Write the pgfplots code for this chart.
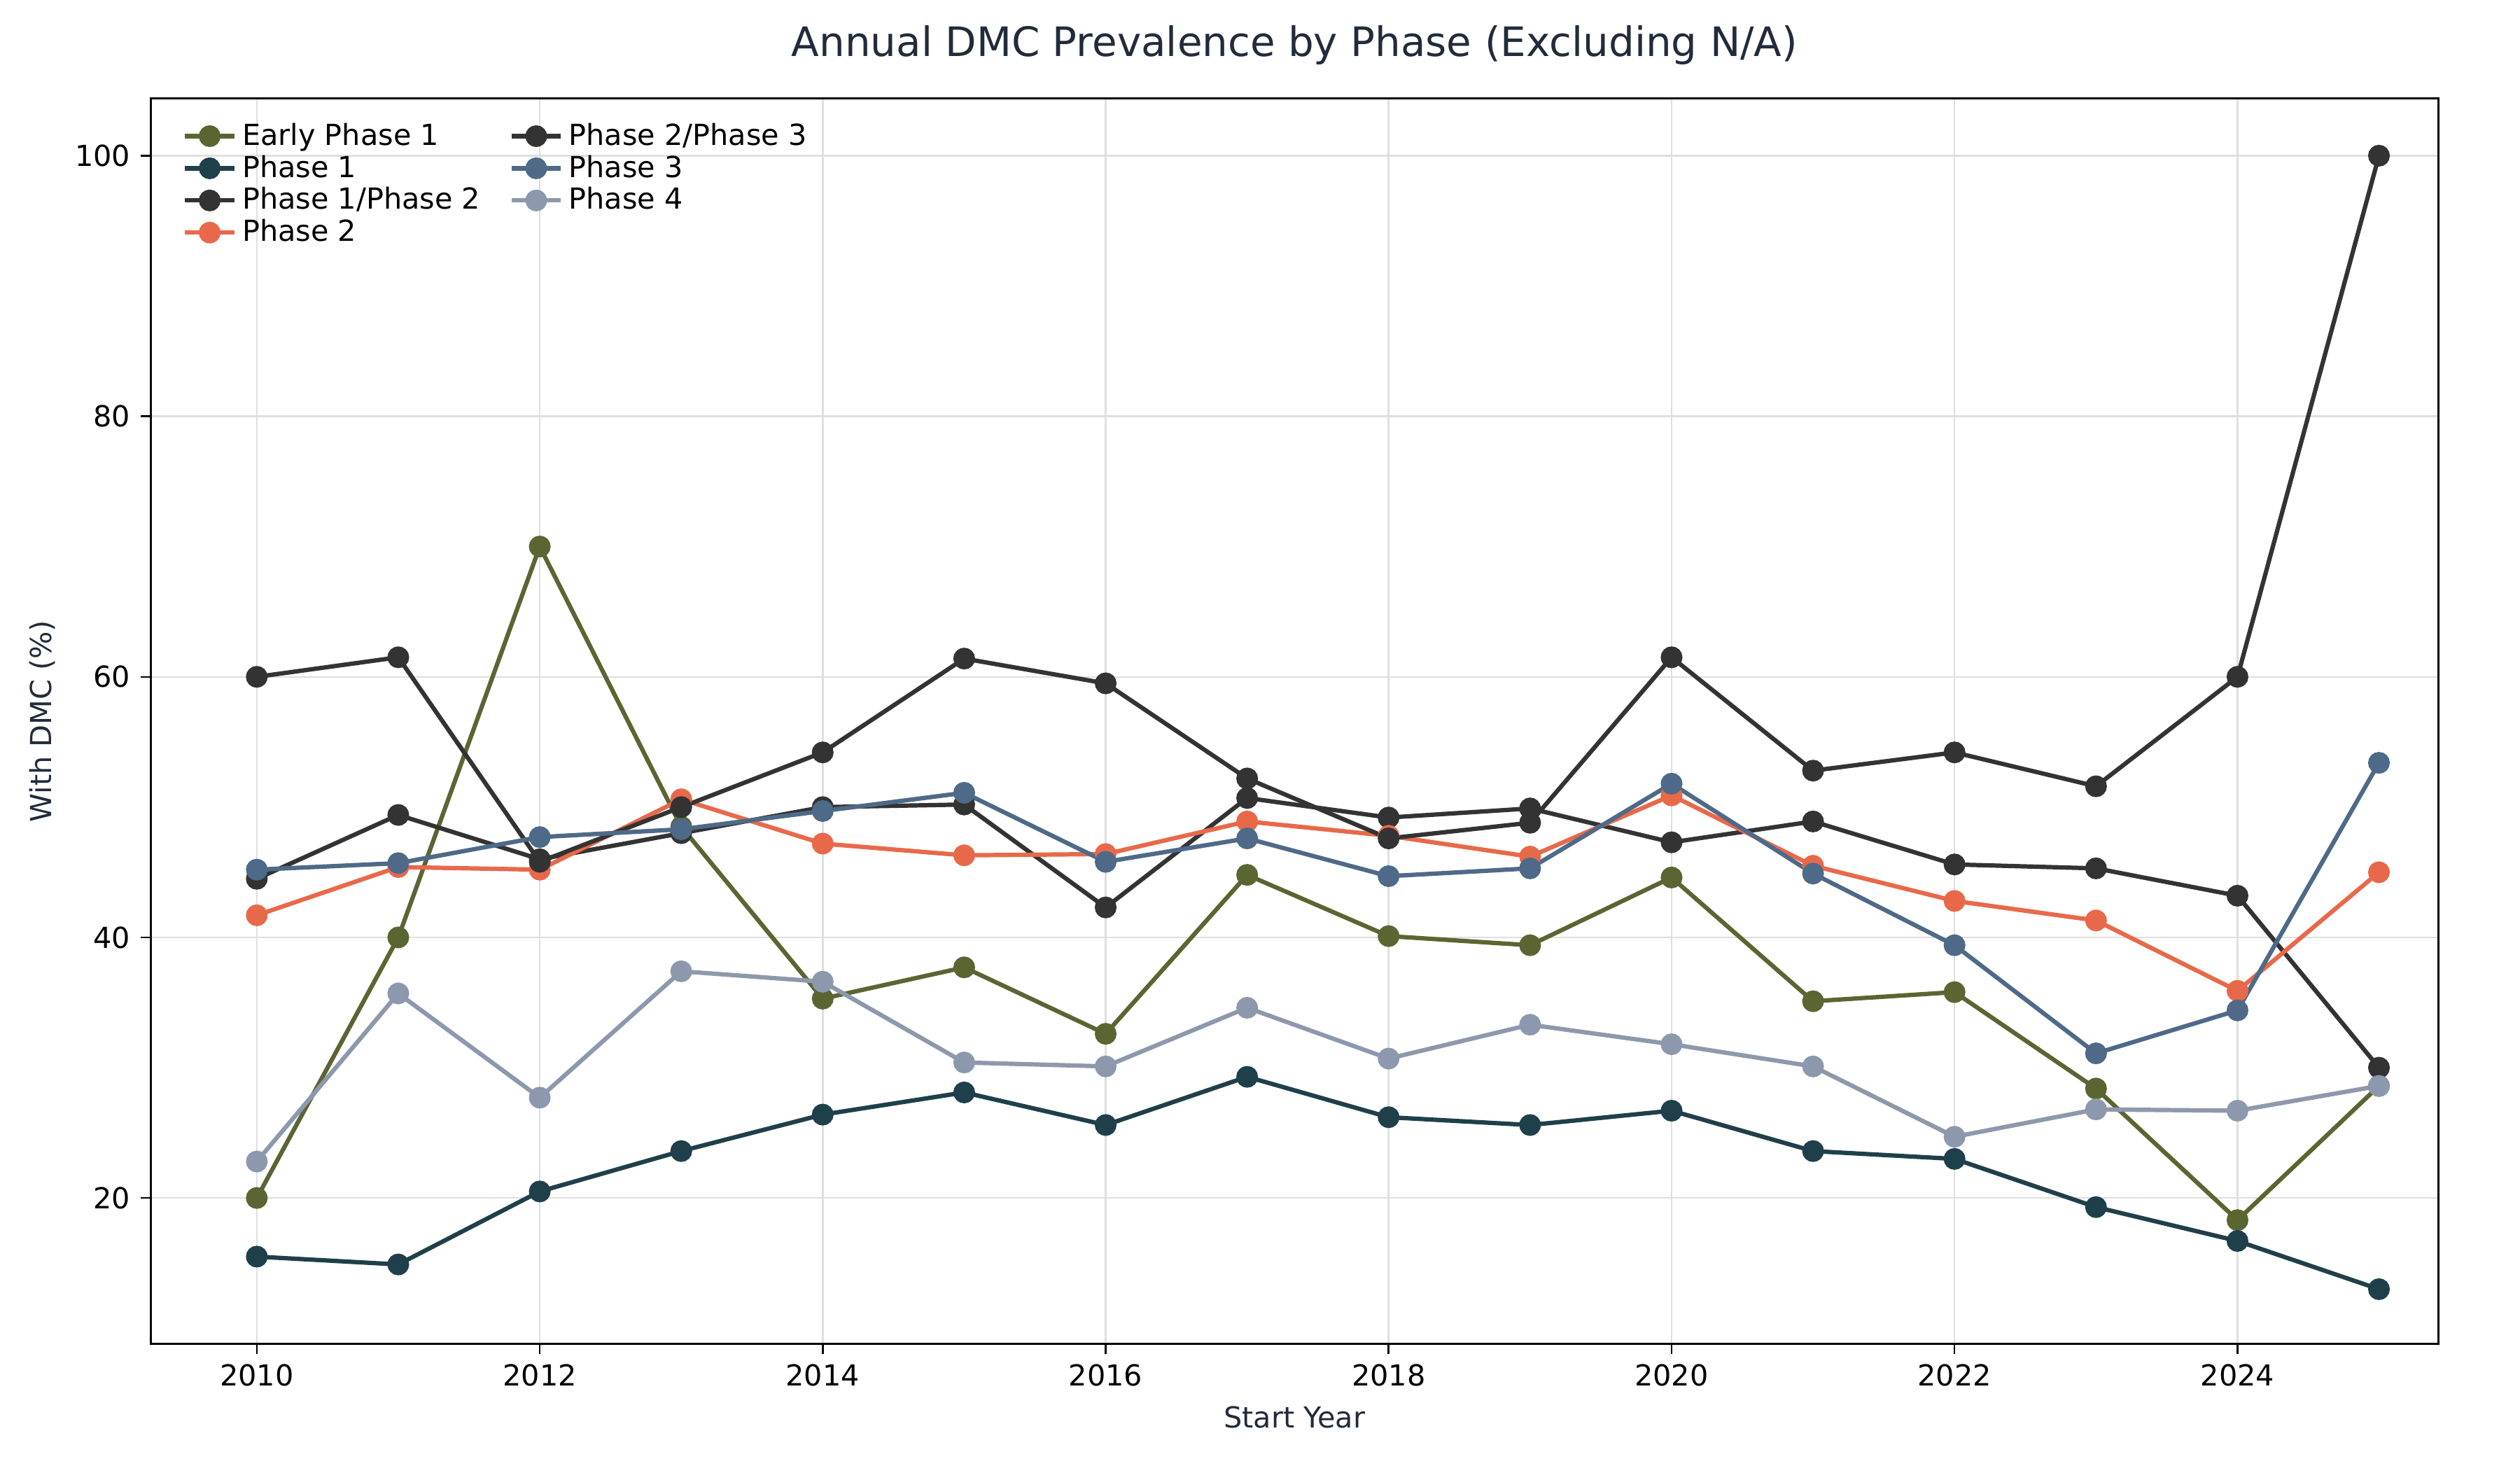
\documentclass[border=0pt]{standalone}
\usepackage{fontspec}
\setmainfont{DejaVu Sans}
\usepackage{pgfplots}
\pgfplotsset{compat=1.18}
\definecolor{cE}{HTML}{5B6532}
\definecolor{cA}{HTML}{1F3F4B}
\definecolor{cK}{HTML}{333333}
\definecolor{cB}{HTML}{E8694A}
\definecolor{cC}{HTML}{4E6A88}
\definecolor{cD}{HTML}{8E98AD}
\definecolor{cT}{HTML}{222B3A}
\begin{document}
\begin{tikzpicture}
\path (-0.72in,-0.65in) rectangle (10.9in+0.42in,5.95in+0.47in);
\begin{axis}[
  at={(0,0)}, anchor=south west,
  width=10.93in, height=5.95in, scale only axis,
  xmin=2009.25, xmax=2025.42, ymin=8.8, ymax=104.4,
  xtick={2010,2012,...,2024}, ytick={20,40,60,80,100},
  xtick pos=bottom, ytick pos=left,
  xticklabel style={/pgf/number format/1000 sep={}},
  /pgf/number format/assume math mode=true,
  tick label style={font=\fontsize{10}{12}\selectfont},
  label style={font=\fontsize{10}{12}\selectfont, text=cT},
  xlabel={Start Year}, ylabel={With DMC (\%)},
  title={Annual DMC Prevalence by Phase (Excluding N/A)},
  title style={font=\fontsize{14}{16}\selectfont, text=cT, yshift=2pt},
  grid=major, grid style={gray!25, line width=0.6pt},
  tick align=outside, tick style={black, line width=0.6pt}, major tick length=3.5pt,
  axis line style={line width=0.8pt},
  legend style={draw=none, fill=none, at={(0.01,0.99)}, anchor=north west, font=\fontsize{10}{12}\selectfont, legend cell align=left, row sep=-2pt, /tikz/every even column/.append style={column sep=8pt}},
  legend columns=4, transpose legend,
  every axis plot/.append style={line width=1.5pt, mark=*, mark size=3pt},
]
\addplot[cE, mark options={fill=cE}] coordinates {(2010,20)(2011,40)(2012,70)(2013,48.5)(2014,35.3)(2015,37.7)(2016,32.6)(2017,44.8)(2018,40.1)(2019,39.4)(2020,44.6)(2021,35.1)(2022,35.8)(2023,28.4)(2024,18.3)(2025,28.6)};
\addlegendentry{Early Phase 1}
\addplot[cA, mark options={fill=cA}] coordinates {(2010,15.5)(2011,14.9)(2012,20.5)(2013,23.6)(2014,26.4)(2015,28.1)(2016,25.6)(2017,29.3)(2018,26.2)(2019,25.6)(2020,26.7)(2021,23.6)(2022,23)(2023,19.3)(2024,16.7)(2025,13)};
\addlegendentry{Phase 1}
\addplot[cK, mark options={fill=cK}] coordinates {(2010,44.5)(2011,49.4)(2012,46)(2013,48)(2014,50)(2015,50.2)(2016,42.3)(2017,50.7)(2018,49.2)(2019,49.9)(2020,47.3)(2021,48.9)(2022,45.6)(2023,45.3)(2024,43.2)(2025,30)};
\addlegendentry{Phase 1/Phase 2}
\addplot[cB, mark options={fill=cB}] coordinates {(2010,41.7)(2011,45.4)(2012,45.2)(2013,50.6)(2014,47.2)(2015,46.3)(2016,46.4)(2017,48.9)(2018,47.8)(2019,46.2)(2020,50.9)(2021,45.5)(2022,42.8)(2023,41.3)(2024,35.9)(2025,45)};
\addlegendentry{Phase 2}
\addplot[cK, mark options={fill=cK}] coordinates {(2010,60)(2011,61.5)(2012,45.8)(2013,50)(2014,54.2)(2015,61.4)(2016,59.5)(2017,52.2)(2018,47.6)(2019,48.8)(2020,61.5)(2021,52.8)(2022,54.2)(2023,51.6)(2024,60)(2025,100)};
\addlegendentry{Phase 2/Phase 3}
\addplot[cC, mark options={fill=cC}] coordinates {(2010,45.2)(2011,45.7)(2012,47.7)(2013,48.3)(2014,49.7)(2015,51.1)(2016,45.8)(2017,47.6)(2018,44.7)(2019,45.3)(2020,51.8)(2021,44.9)(2022,39.4)(2023,31.1)(2024,34.4)(2025,53.4)};
\addlegendentry{Phase 3}
\addplot[cD, mark options={fill=cD}] coordinates {(2010,22.8)(2011,35.7)(2012,27.7)(2013,37.4)(2014,36.6)(2015,30.4)(2016,30.1)(2017,34.6)(2018,30.7)(2019,33.3)(2020,31.8)(2021,30.1)(2022,24.7)(2023,26.8)(2024,26.7)(2025,28.6)};
\addlegendentry{Phase 4}
\end{axis}
\end{tikzpicture}
\end{document}
